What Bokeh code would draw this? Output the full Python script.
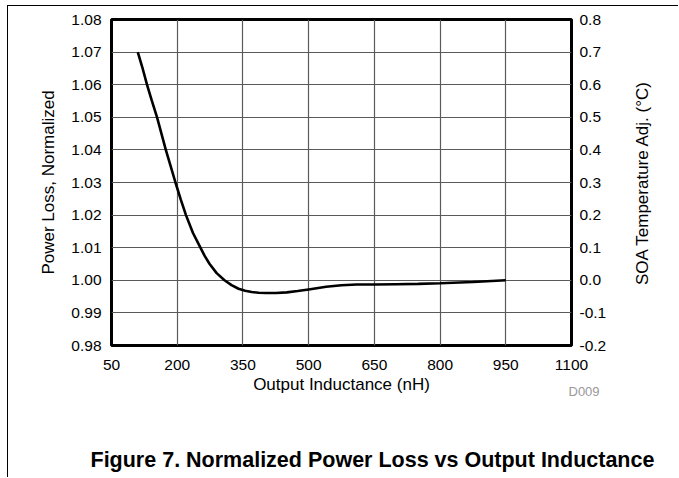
import math
from bokeh.plotting import figure
from bokeh.models import Range1d, LinearAxis, FixedTicker, NumeralTickFormatter, Title, Label
from bokeh.embed import file_html
from bokeh.resources import INLINE

# ---- data ----
inductance_nh = [110, 120, 131, 142, 154, 164, 174, 185, 196, 208, 220, 236, 253, 263,
                 274, 290, 308, 324, 340, 355, 370, 386, 403, 425, 450, 475, 500, 540,
                 575, 610, 650, 700, 750, 800, 875, 950]
power_loss_norm = [1.0700, 1.0655, 1.0600, 1.0551, 1.0500, 1.0450, 1.0400, 1.0350, 1.0300,
                   1.0248, 1.0200, 1.0145, 1.0100, 1.0074, 1.0050, 1.0022, 1.0000, 0.9985,
                   0.9974, 0.9968, 0.9964, 0.9962, 0.9961, 0.9961, 0.9963, 0.9967, 0.9972,
                   0.9980, 0.9985, 0.9987, 0.9987, 0.9988, 0.9989, 0.9991, 0.9995, 1.0000]

x_ticks = [50, 200, 350, 500, 650, 800, 950, 1100]
left_ticks = [0.98, 0.99, 1.00, 1.01, 1.02, 1.03, 1.04, 1.05, 1.06, 1.07, 1.08]
right_ticks = [-0.2, -0.1, 0.0, 0.1, 0.2, 0.3, 0.4, 0.5, 0.6, 0.7, 0.8]

x_label = "Output Inductance (nH)"
left_label = "Power Loss, Normalized"
right_label = "SOA Temperature Adj. (°C)"
title_text = "Figure 7. Normalized Power Loss vs Output Inductance"
code_text = "D009"

FONT = "Liberation Sans"
TICK_SIZE = "15.5px"
LABEL_SIZE = "17px"

p = figure(width=671, height=472, output_backend="svg", toolbar_location=None,
           x_range=Range1d(50, 1100), y_range=Range1d(0.98, 1.08),
           min_border_left=103, min_border_right=108, min_border_top=13,
           min_border_bottom=133)
p.extra_y_ranges = {"soa": Range1d(-0.2, 0.8)}
# thin page rules at the top and left edge, as in the reference page crop
p.styles = {"margin-left": "7px", "margin-top": "5px",
            "border-left": "1px solid black", "border-top": "1px solid black"}

p.background_fill_color = "white"
p.border_fill_color = "white"
p.outline_line_color = "black"
p.outline_line_width = 3
p.outline_line_alpha = 1.0


def style_axis(ax):
    ax.axis_line_color = None
    ax.major_tick_line_color = None
    ax.minor_tick_line_color = None
    ax.major_tick_in = 0
    ax.major_tick_out = 0
    ax.minor_tick_in = 0
    ax.minor_tick_out = 0
    ax.major_label_text_font = FONT
    ax.major_label_text_font_size = TICK_SIZE
    ax.major_label_text_color = "black"
    ax.axis_label_text_font = FONT
    ax.axis_label_text_font_size = LABEL_SIZE
    ax.axis_label_text_font_style = "normal"
    ax.axis_label_text_color = "black"


xa = p.xaxis[0]
xa.ticker = FixedTicker(ticks=x_ticks)
xa.axis_label = x_label
xa.major_label_standoff = 14
xa.axis_label_standoff = 2
style_axis(xa)

ya = p.yaxis[0]
ya.ticker = FixedTicker(ticks=left_ticks)
ya.formatter = NumeralTickFormatter(format="0.00")
ya.axis_label = left_label
ya.major_label_standoff = 10
ya.axis_label_standoff = 10
style_axis(ya)

ra = LinearAxis(y_range_name="soa", ticker=FixedTicker(ticks=right_ticks),
                formatter=NumeralTickFormatter(format="0.0"))
ra.major_label_standoff = 8
style_axis(ra)
p.add_layout(ra, "right")

# right-hand axis title, reading bottom-to-top like the reference
right_title = Label(x=1261, y=1.03, x_units="data", y_units="data", text=right_label,
                    angle=math.pi / 2, text_align="center", text_baseline="middle",
                    text_font=FONT, text_font_size=LABEL_SIZE, text_color="black")
p.add_layout(right_title, "right")

p.xgrid.ticker = FixedTicker(ticks=x_ticks)
p.ygrid.ticker = FixedTicker(ticks=left_ticks)
for g in (p.xgrid[0], p.ygrid[0]):
    g.grid_line_color = "#5a5a5a"
    g.grid_line_width = 1.2
    g.grid_line_alpha = 1.0

p.line(inductance_nh, power_loss_norm, line_color="black", line_width=2.6)

code_title = Title(text=code_text, align="left", offset=457, standoff=-26,
                   vertical_align="top", text_font=FONT, text_font_size="13px",
                   text_font_style="normal", text_color="#999999")
spacer = Title(text=" ", align="left", standoff=36, text_font=FONT,
               text_font_size="12px", text_font_style="normal")
main_title = Title(text=title_text, align="left", offset=-21, standoff=-6,
                   text_font=FONT, text_font_size="21.5px", text_font_style="bold",
                   text_color="black")
p.add_layout(code_title, "below")
p.add_layout(spacer, "below")
p.add_layout(main_title, "below")

open("out.html", "w").write(file_html(p, INLINE))
